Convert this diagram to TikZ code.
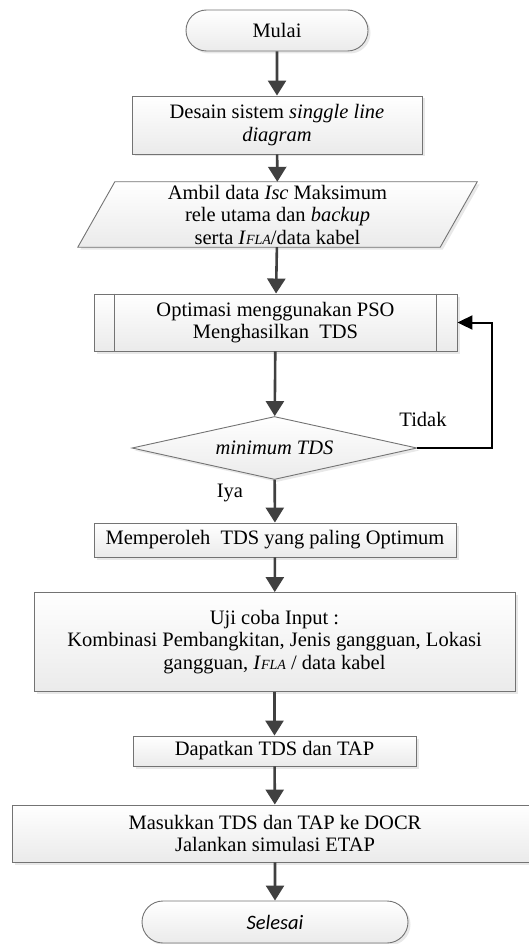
\documentclass[tikz,border=0pt]{standalone}
\usepackage{fontspec}
\setmainfont{Liberation Serif}
\newfontfamily\calibri{Carlito}
\usetikzlibrary{shapes.geometric,shapes.misc,arrows.meta,shadows,backgrounds}

\tikzset{
	box/.style={draw=black!55, line width=0.9pt, top color=white, bottom color=black!8,
		drop shadow={shadow xshift=2.5pt, shadow yshift=-2.5pt, fill=black!18},
		align=center, inner sep=0pt},
	stepbox/.style={box, rectangle},
	termbox/.style={box, rounded rectangle},
	decbox/.style={box, diamond, aspect=4.5},
	flow/.style={draw=black!75, line width=2.6pt, -{Triangle[width=18pt,length=15pt]}},
	loop/.style={draw=black, line width=2pt, -{Triangle[width=14pt,length=15pt]}},
}
\newcommand{\ifla}{\textit{I}{\fontsize{14}{14}\selectfont\itshape FLA}}

\begin{document}
\begin{tikzpicture}[x=1pt, y=-1pt, font=\fontsize{20.5}{22.5}\selectfont]
		\useasboundingbox (0,0) rectangle (528,944);

		% nodes
		\node[termbox, minimum width=182pt, minimum height=41pt] (mulai) at (277,30.5) {Mulai};
		\node[stepbox, minimum width=290pt, minimum height=58pt] (desain) at (277,125)
			{Desain sistem \textit{singgle line}\\ \textit{diagram}};
		\node[align=center, inner sep=0pt, minimum width=362pt, minimum height=65pt] (ambil) at (277.5,214.5)
			{Ambil data \textit{Isc} Maksimum\\ rele utama dan \textit{backup}\\ serta \ifla/data kabel};
		\begin{scope}[on background layer]
			\path[box] ([xshift=-18.5pt]ambil.south west) -- ([xshift=18.5pt]ambil.north west)
				-- ([xshift=18.5pt]ambil.north east) -- ([xshift=-18.5pt]ambil.south east) -- cycle;
		\end{scope}
		\node[stepbox, minimum width=363pt, minimum height=57pt] (pso) at (275.5,322.5)
			{Optimasi menggunakan PSO\\ Menghasilkan~ TDS};
		\draw[black!55, line width=0.9pt] ([xshift=21pt]pso.north west) -- ([xshift=21pt]pso.south west);
		\draw[black!55, line width=0.9pt] ([xshift=-21pt]pso.north east) -- ([xshift=-21pt]pso.south east);
		\node[decbox, minimum width=285pt, minimum height=63pt] (cek) at (274.5,448) {\textit{minimum TDS}};
		\node[stepbox, minimum width=362pt, minimum height=34pt] (hasil) at (275,540)
			{Memperoleh~ TDS yang paling Optimum};
		\node[stepbox, minimum width=481pt, minimum height=99pt] (uji) at (274.5,642)
			{Uji coba Input :\\ Kombinasi Pembangkitan, Jenis gangguan, Lokasi\\ gangguan, \ifla{} / data kabel};
		\node[stepbox, minimum width=283pt, minimum height=30pt] (dapat) at (274.5,751) {Dapatkan TDS dan TAP};
		\node[stepbox, minimum width=526pt, minimum height=57pt] (masuk) at (275,833.5)
			{Masukkan TDS dan TAP ke DOCR\\ Jalankan simulasi ETAP};
		\node[termbox, minimum width=266pt, minimum height=42pt] (selesai) at (275,922) {\calibri\itshape Selesai};

		% labels
		\node (tidak) at (423,419) {Tidak};
		\node (iya) at (230,493) {Iya};

		% connectors
		\draw[flow] (mulai) -- (desain);
		\draw[flow] (desain) -- (ambil);
		\draw[flow] (ambil) -- (pso);
		\draw[flow] (pso) -- (cek);
		\draw[flow] (cek) -- (hasil);
		\draw[flow] (hasil) -- (uji);
		\draw[flow] (uji) -- (dapat);
		\draw[flow] (dapat) -- (masuk);
		\draw[flow] (masuk) -- (selesai);
		\draw[loop] (cek.east) -| ([xshift=35pt]pso.east) -- (pso.east);
	\end{tikzpicture}
\end{document}
